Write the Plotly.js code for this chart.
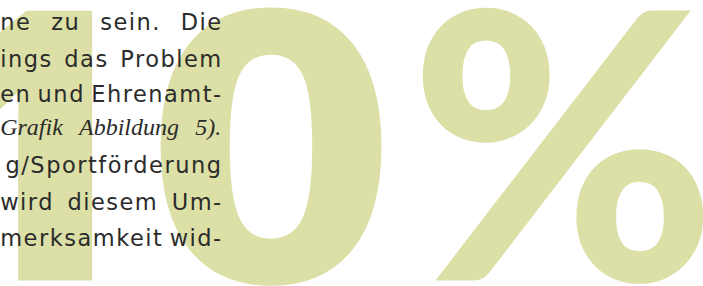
<!DOCTYPE html>
<html><head><meta charset="utf-8">
<script src="https://cdn.plot.ly/plotly-3.0.1.min.js"></script>
<style>
html,body{margin:0;padding:0;background:#fff;overflow:hidden;}
#chart{width:703px;height:286px;}
.scatterlayer .trace:nth-child(4) text{letter-spacing:1.5px;}
</style></head><body><div id="chart"></div>
<script>
// ---- content ----
const bigChars = ["1", "0", "%"];           // the large figure "10%"
const bodyLines = [
  "ne zu sein. Die",
  "ings das Problem",
  "en und Ehrenamt-",
  "Grafik Abbildung 5).",
  "g/Sportförderung",
  "wird diesem Um-",
  "merksamkeit wid-"
];
const italicLines = [3];

// ---- layout constants ----
const W = 703, H = 286;
const BIG_COLOR = "#dcdfa6", BIG_BASE = 280.5;
const BIG = [
  {x: 29,  size: 378, font: "Open Sans", weight: 800},
  {x: 271, size: 368, font: "DejaVu Sans", weight: 700},
  {x: 563, size: 372, font: "Lato", weight: 900}
];
const BODY = {size: 22.5, font: "DejaVu Sans", ls: 1.5, color: "#2b2b2b", left: 0, right: 221};
const ITAL = {size: 24, font: "Liberation Serif", ls: 0, color: "#2b2b2b", left: 0, right: 221};
const baselines = [30, 66.5, 101.5, 135, 172.5, 209.5, 246];
const MID = 0.25;   // plotly: baseline sits 0.25em below the point for "middle" text

const ctx = document.createElement('canvas').getContext('2d');
function measure(w, st){
  ctx.font = (st === ITAL ? 'italic ' : '') + st.size + 'px "' + st.font + '"';
  return ctx.measureText(w).width + st.ls * (w.length - 1);
}

const body = {x: [], y: [], text: []};
const ital = {x: [], y: [], text: []};
bodyLines.forEach((line, i) => {
  const isIt = italicLines.indexOf(i) >= 0;
  const st = isIt ? ITAL : BODY;
  const tgt = isIt ? ital : body;
  const words = line.split(' ');
  const ws = words.map(w => measure(w, st));
  const total = ws.reduce((a, b) => a + b, 0);
  const y = baselines[i] - MID * st.size;
  if (words.length === 1) {
    tgt.x.push(Math.max(0.2, st.right - ws[0])); tgt.y.push(y); tgt.text.push(words[0]);
  } else {
    const gap = (st.right - st.left - total) / (words.length - 1);
    let x = st.left + 0.2;
    words.forEach((w, k) => { tgt.x.push(x); tgt.y.push(y); tgt.text.push(w); x += ws[k] + gap; });
  }
});

const traces = bigChars.map((c, i) => ({
  type: 'scatter', mode: 'text', x: [BIG[i].x], y: [BIG_BASE - MID * BIG[i].size],
  text: [c], textposition: 'middle center',
  textfont: {family: BIG[i].font, size: BIG[i].size, weight: BIG[i].weight, color: BIG_COLOR},
  hoverinfo: 'skip', cliponaxis: false
}));
traces.push(
  {type: 'scatter', mode: 'text', x: body.x, y: body.y, text: body.text, textposition: 'middle right',
   textfont: {family: BODY.font, size: BODY.size, color: BODY.color}, hoverinfo: 'skip', cliponaxis: false},
  {type: 'scatter', mode: 'text', x: ital.x, y: ital.y, text: ital.text, textposition: 'middle right',
   textfont: {family: ITAL.font, size: ITAL.size, color: ITAL.color, style: 'italic'}, hoverinfo: 'skip', cliponaxis: false}
);

const layout = {
  width: W, height: H, margin: {l: 0, r: 0, t: 0, b: 0, pad: 0},
  paper_bgcolor: '#ffffff', plot_bgcolor: '#ffffff', showlegend: false,
  xaxis: {range: [0, W], visible: false, fixedrange: true},
  yaxis: {range: [H, 0], visible: false, fixedrange: true}
};
Plotly.newPlot('chart', traces, layout, {staticPlot: true, displayModeBar: false});
</script></body></html>
